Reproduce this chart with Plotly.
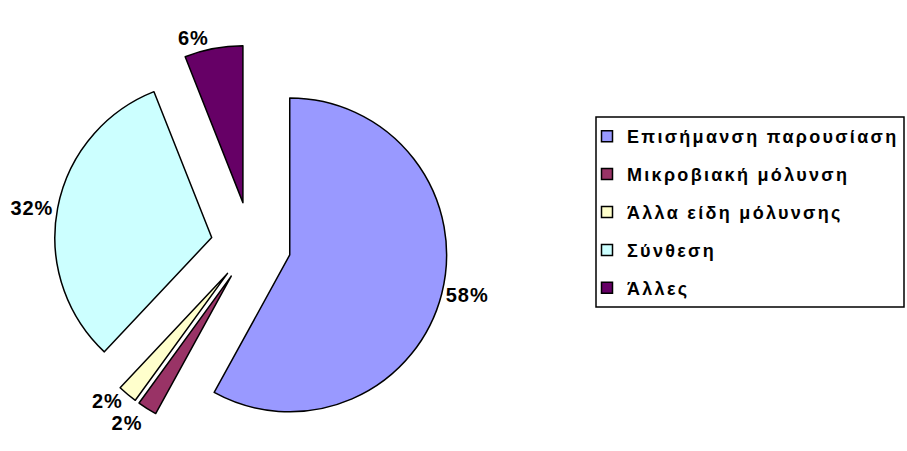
import plotly.graph_objects as go

labels = ["Επισήμανση παρουσίαση", "Μικροβιακή μόλυνση", "Άλλα είδη μόλυνσης", "Σύνθεση", "Άλλες"]
values = [58, 2, 2, 32, 6]
colors = ["#9999FF", "#993366", "#FFFFCC", "#CCFFFF", "#660066"]
pulls = [0.255, 0.235, 0.235, 0.255, 0.275]

fig = go.Figure()
fig.add_trace(go.Pie(
    labels=labels, values=values, sort=False, direction="clockwise", rotation=0,
    pull=pulls,
    marker=dict(colors=colors, line=dict(color="black", width=1.5)),
    textinfo="percent", texttemplate="%{percent:.0%}", textposition="outside",
    textfont=dict(family="Arial", size=20, color="black", weight="bold"),
    showlegend=False, automargin=False,
    domain=dict(x=[51/907, 451/907], y=[1-445/451, 1-45/451]),
))
for lab, col in zip(labels, colors):
    fig.add_trace(go.Scatter(
        x=[None], y=[None], mode="markers", name=lab, legendgroup=lab,
        marker=dict(symbol="square", size=11, color=col, line=dict(color="black", width=1.5)),
    ))

fig.update_layout(
    width=907, height=451, autosize=False,
    margin=dict(l=0, r=0, t=0, b=0, pad=0, autoexpand=False),
    paper_bgcolor="white", plot_bgcolor="white",
    xaxis=dict(visible=False), yaxis=dict(visible=False),
    legend=dict(x=587/907, xanchor="left", y=1-118/451, yanchor="top",
                borderwidth=0, tracegroupgap=11.5, bgcolor="rgba(0,0,0,0)",
                font=dict(family="Arial", size=18, color="black", weight="bold")),
    shapes=[dict(type="rect", xref="paper", yref="paper",
                 x0=596/907, x1=904/907, y0=1-307/451, y1=1-117/451,
                 line=dict(color="black", width=1.5), fillcolor="rgba(0,0,0,0)")],
)

post = """
document.body.style.margin = '0';
var gd = document.getElementById('{plot_id}');
gd.querySelectorAll('.legendtext').forEach(function(t){ t.style.letterSpacing = '2.3px'; });
gd.querySelectorAll('.legend .scrollbox, .legend [clip-path]').forEach(function(s){ s.removeAttribute('clip-path'); });
gd.querySelectorAll('.slicetext').forEach(function(t){ t.style.letterSpacing = '1px'; });
gd.querySelectorAll('.slicetext text').forEach(function(t){ t.style.letterSpacing = '1px'; });
gd.querySelectorAll('path.textline').forEach(function(p){ p.style.display = 'none'; });
"""
fig.write_html("out.html", post_script=post, config={"displayModeBar": False})
